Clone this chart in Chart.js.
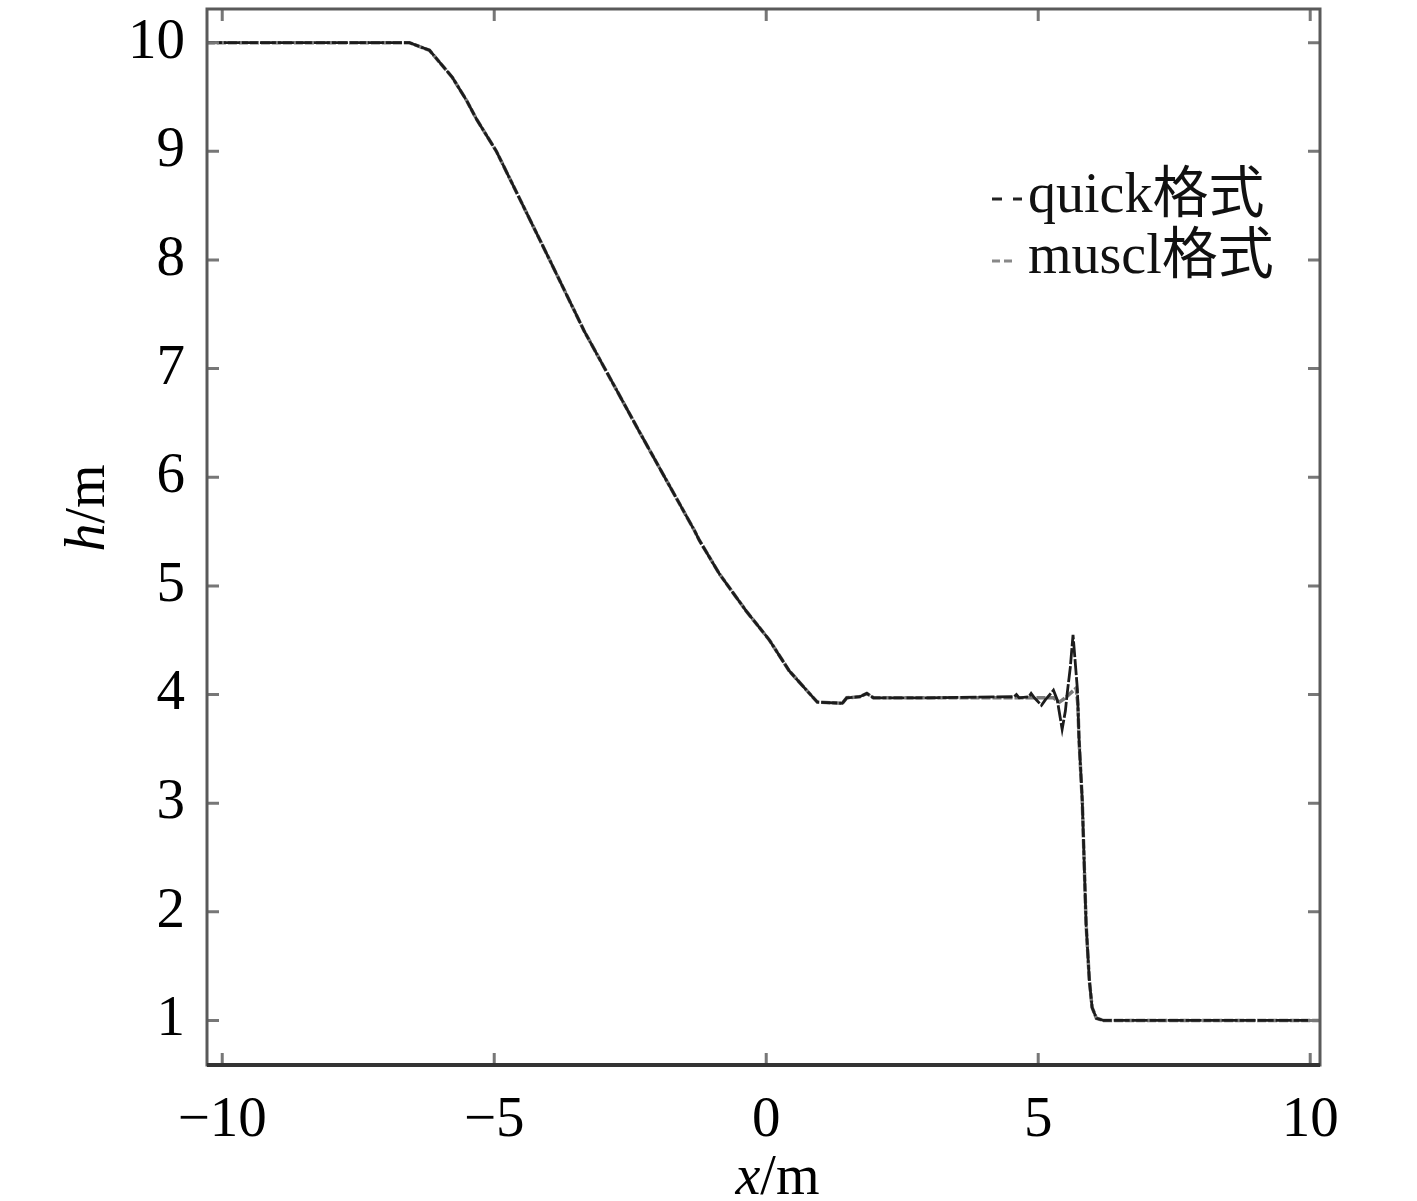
<!DOCTYPE html>
<html>
<head>
<meta charset="utf-8">
<script src="https://cdn.jsdelivr.net/npm/chart.js@4.4.1/dist/chart.umd.min.js"></script>
<style>
  html, body { margin: 0; padding: 0; background: #fff; }
  #wrap { width: 1417px; height: 1201px; }
</style>
</head>
<body>
<div id="wrap"><canvas id="grafico"></canvas></div>
<script>
// datos
const quickX = [-10.3, -6.56, -6.19, -5.77, -5.51, -5.33, -4.96, -4.0, -3.35, -2.3, -1.32, -1.23, -0.86, -0.37, 0.06, 0.42, 0.74, 0.94, 1.40, 1.48, 1.72, 1.85, 1.97, 3.0, 4.56, 4.60, 4.65, 4.83, 4.87, 4.93, 5.06, 5.13, 5.28, 5.35, 5.44, 5.50, 5.53, 5.59, 5.64, 5.68, 5.72, 5.75, 5.81, 5.88, 5.94, 5.99, 6.07, 6.2, 10.2];
const quickH = [10, 10, 9.93, 9.68, 9.47, 9.30, 9.00, 8.02, 7.35, 6.39, 5.51, 5.42, 5.11, 4.77, 4.50, 4.22, 4.04, 3.93, 3.92, 3.97, 3.98, 4.01, 3.97, 3.97, 3.98, 4.00, 3.97, 3.98, 4.01, 3.97, 3.90, 3.95, 4.04, 3.95, 3.68, 3.85, 4.00, 4.25, 4.55, 4.30, 4.05, 3.60, 3.02, 1.89, 1.37, 1.12, 1.02, 1.0, 1.0];

const musclX = [-10.3, -6.56, -6.19, -5.77, -5.51, -5.33, -4.96, -4.0, -3.35, -2.3, -1.32, -1.23, -0.86, -0.37, 0.06, 0.42, 0.74, 0.94, 1.40, 1.48, 1.72, 1.85, 1.97, 3.0, 4.6, 5.28, 5.39, 5.50, 5.61, 5.70, 5.73, 5.75, 5.81, 5.88, 5.94, 5.99, 6.07, 6.2, 10.2];
const musclH = [10, 10, 9.93, 9.68, 9.47, 9.30, 9.00, 8.02, 7.35, 6.39, 5.51, 5.42, 5.11, 4.77, 4.50, 4.22, 4.04, 3.93, 3.92, 3.97, 3.98, 4.01, 3.97, 3.97, 3.97, 3.97, 3.93, 3.97, 4.02, 4.06, 3.90, 3.58, 3.02, 1.89, 1.37, 1.12, 1.02, 1.0, 1.0];

const xTicks = [-10, -5, 0, 5, 10];
const yTicks = [1, 2, 3, 4, 5, 6, 7, 8, 9, 10];
const nombres = ['quick格式', 'muscl格式'];

const fuente = '"Liberation Serif", "Times New Roman", "Noto Sans CJK SC", serif';
const colorMarco = '#5a5a5a';

function puntos(xs, ys) {
    return xs.map((x, i) => ({ x: x, y: ys[i] }));
}

// marco, ticks hacia adentro, titulos de ejes y leyenda
const decoraciones = {
    id: 'decoraciones',
    afterDatasetsDraw(chart) {
        const ctx = chart.ctx;
        const a = chart.chartArea;
        const sx = chart.scales.x;
        const sy = chart.scales.y;
        ctx.save();

        // ticks
        ctx.strokeStyle = '#777';
        ctx.lineWidth = 3;
        const largo = 12;
        sx.ticks.forEach(t => {
            const px = sx.getPixelForValue(t.value);
            ctx.beginPath();
            ctx.moveTo(px, a.bottom); ctx.lineTo(px, a.bottom - largo);
            ctx.moveTo(px, a.top); ctx.lineTo(px, a.top + largo);
            ctx.stroke();
        });
        sy.ticks.forEach(t => {
            const py = sy.getPixelForValue(t.value);
            ctx.beginPath();
            ctx.moveTo(a.left, py); ctx.lineTo(a.left + largo, py);
            ctx.moveTo(a.right, py); ctx.lineTo(a.right - largo, py);
            ctx.stroke();
        });

        // marco
        ctx.strokeStyle = colorMarco;
        ctx.lineWidth = 3;
        ctx.strokeRect(a.left, a.top, a.right - a.left, a.bottom - a.top);
        ctx.strokeStyle = '#333';
        ctx.lineWidth = 4;
        ctx.beginPath();
        ctx.moveTo(a.left, a.bottom); ctx.lineTo(a.right, a.bottom);
        ctx.stroke();

        // leyenda
        ctx.fillStyle = '#111';
        ctx.textBaseline = 'alphabetic';
        ctx.textAlign = 'left';
        ctx.font = '56px ' + fuente;
        ctx.fillText(nombres[0], 1028, 212);
        ctx.fillText(nombres[1], 1028, 273);
        ctx.lineWidth = 3;
        ctx.strokeStyle = '#222';
        ctx.beginPath();
        ctx.moveTo(992, 199); ctx.lineTo(1002, 199);
        ctx.moveTo(1013, 199); ctx.lineTo(1022, 199);
        ctx.stroke();
        ctx.strokeStyle = '#888';
        ctx.beginPath();
        ctx.moveTo(992, 261); ctx.lineTo(1000, 261);
        ctx.moveTo(1004, 261); ctx.lineTo(1012, 261);
        ctx.stroke();

        // titulo eje x
        ctx.fillStyle = '#000';
        ctx.font = 'italic 56px ' + fuente;
        const wx = ctx.measureText('x').width;
        ctx.font = '56px ' + fuente;
        const wm = ctx.measureText('/m').width;
        let x0 = (a.left + a.right) / 2 + 14 - (wx + wm) / 2;
        ctx.font = 'italic 56px ' + fuente;
        ctx.fillText('x', x0, 1194);
        ctx.font = '56px ' + fuente;
        ctx.fillText('/m', x0 + wx, 1194);

        // titulo eje y
        ctx.translate(104, 508);
        ctx.rotate(-Math.PI / 2);
        ctx.font = 'italic 56px ' + fuente;
        const wh = ctx.measureText('h').width;
        x0 = -(wh + wm) / 2;
        ctx.fillText('h', x0, 0);
        ctx.font = '56px ' + fuente;
        ctx.fillText('/m', x0 + wh, 0);

        ctx.restore();
    }
};

window.onload = function () {
    const ctx = document.getElementById('grafico');
    new Chart(ctx, {
        type: 'line',
        data: {
            datasets: [{
                label: nombres[0],
                data: puntos(quickX, quickH),
                borderColor: '#1c1c1c',
                borderWidth: 2.8,
                borderDash: [16, 2],
                pointRadius: 0,
                tension: 0,
                fill: false
            }, {
                label: nombres[1],
                data: puntos(musclX, musclH),
                borderColor: '#7a7a7a',
                borderWidth: 3.5,
                borderDash: [9, 2],
                pointRadius: 0,
                tension: 0,
                fill: false
            }]
        },
        options: {
            responsive: true,
            maintainAspectRatio: false,
            animation: false,
            layout: { padding: { top: 9, right: 97, left: 0, bottom: 0 } },
            plugins: {
                legend: { display: false },
                tooltip: { enabled: false }
            },
            scales: {
                x: {
                    type: 'linear',
                    min: -10.28,
                    max: 10.18,
                    afterBuildTicks: s => { s.ticks = xTicks.map(v => ({ value: v })); },
                    afterFit: s => {
                        s.height = 136;
                        s.paddingLeft = 0;
                        s.paddingRight = 0;
                    },
                    grid: { display: false, drawTicks: false },
                    border: { display: false },
                    ticks: {
                        color: '#000',
                        padding: 22,
                        maxRotation: 0,
                        font: { family: fuente, size: 57 },
                        callback: v => String(v).replace('-', '\u2212')
                    }
                },
                y: {
                    type: 'linear',
                    min: 0.59,
                    max: 10.31,
                    afterBuildTicks: s => { s.ticks = yTicks.map(v => ({ value: v })); },
                    afterFit: s => {
                        s.width = 207;
                        s.paddingTop = 0;
                        s.paddingBottom = 0;
                    },
                    grid: { display: false, drawTicks: false },
                    border: { display: false },
                    ticks: {
                        color: '#000',
                        padding: 22,
                        font: { family: fuente, size: 57 }
                    }
                }
            }
        },
        plugins: [decoraciones]
    });
};
</script>
</body>
</html>
